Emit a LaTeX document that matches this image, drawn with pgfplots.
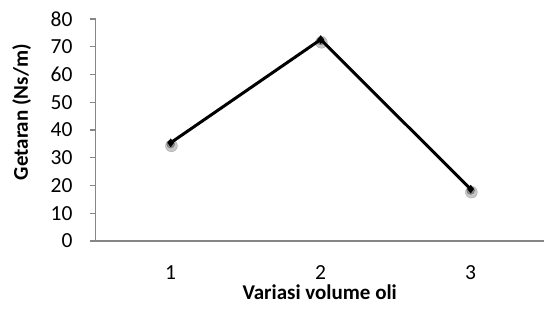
\documentclass[border=0pt]{standalone}
\usepackage{fontspec}
\setmainfont{Carlito}
\usepackage{pgfplots}
\pgfplotsset{compat=1.18}
\definecolor{axgray}{HTML}{868686}
\begin{document}
\begin{tikzpicture}[x=1pt,y=1pt]
\path[use as bounding box] (0,0) rectangle (544,317);
\begin{axis}[
  at={(95.7pt,76pt)}, anchor=south west,
  scale only axis, width=448pt, height=222pt,
  xmin=0.5, xmax=3.487, ymin=0, ymax=80,
  axis x line*=bottom, axis y line*=left,
  axis line style={draw=axgray, line width=1.3pt},
  every outer x axis line/.append style={-}, every outer y axis line/.append style={-},
  xtick={1,2,3}, ytick={0,10,...,80},
  major x tick style={draw=none},
  major y tick style={draw=axgray, line width=1.3pt},
  tick align=outside, major tick length=6pt,
  /pgf/number format/assume math mode=true,
  tick label style={font=\fontsize{21.5}{24}\selectfont, inner sep=0pt},
  yticklabel style={anchor=east, xshift=-17pt},
  xticklabel style={anchor=north, yshift=-18pt},
  xlabel={\textbf{Variasi volume oli}}, ylabel={\textbf{Getaran (Ns/m)}},
  label style={font=\fontsize{21}{24}\selectfont},
  xlabel style={at={(axis description cs:0.5,-0.232)}, anchor=center},
  ylabel style={at={(axis description cs:-0.165,0.58)}, anchor=center, rotate=0},
  clip=false,
]
\addplot[only marks, mark=*, mark size=6pt, color=black, opacity=0.22, forget plot] coordinates {(1.005,34.3) (2.005,71.6) (3.005,17.6)};
\addplot[only marks, mark=*, mark size=4pt, color=black, opacity=0.3, forget plot] coordinates {(1.0,34.9) (2.0,72.1) (3.0,18.2)};
\addplot[black, line width=3pt, mark=diamond*, mark size=4pt, mark options={fill=black, draw=black, line width=0.4pt}] coordinates {(1,35.4) (2,72.6) (3,18.7)};
\end{axis}
\end{tikzpicture}
\end{document}
